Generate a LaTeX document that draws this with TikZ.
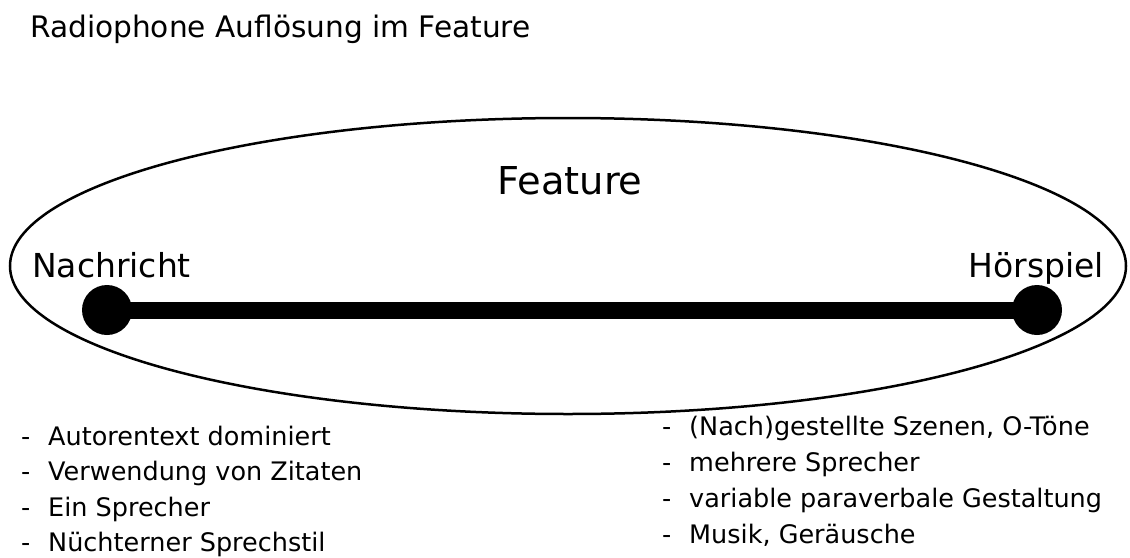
\documentclass[tikz,border=0pt]{standalone}
\usepackage{fontspec}
\setmainfont{DejaVu Sans}
\usetikzlibrary{positioning}
\tikzstyle{dot} = [circle, fill=black, inner sep=0pt, minimum size=50pt]
\tikzstyle{bar} = [draw, line width=17pt]
\tikzstyle{liste} = [anchor=base west, inner sep=0pt, font=\fontsize{25.5}{30}\selectfont]
\tikzstyle{pol} = [inner sep=0pt, font=\fontsize{33}{38}\selectfont]
\newcommand{\strich}{-\hspace{0.7em}}

\begin{document}
\begin{tikzpicture}[x=1pt,y=-1pt]
    \useasboundingbox (0,0) rectangle (1130,557);
    % Titel
    \node [anchor=base west, inner sep=0pt, font=\fontsize{29.6}{34}\selectfont] (titel) at (30,37) {Radiophone Auflösung im Feature};
    % Ellipse und Skala
    \draw [line width=2.5pt] (568,266) ellipse [x radius=558, y radius=148];
    \node [anchor=base, inner sep=0pt, font=\fontsize{38.4}{44}\selectfont] (feature) at (570,194) {Feature};
    \node [pol, anchor=base west] (nachricht) at (32,277) {Nachricht};
    \node [pol, anchor=base east] (hoerspiel) at (1104,277) {Hörspiel};
    \coordinate (links) at (107,310);
    \coordinate (rechts) at (1037,310);
    \draw [bar] (links) -- (rechts);
    \node [dot] (dotl) at (links) {};
    \node [dot] (dotr) at (rechts) {};
    % Merkmale Nachricht
    \node [liste] (l1) at (21,445) {\strich Autorentext dominiert};
    \node [liste] (l2) at (21,480) {\strich Verwendung von Zitaten};
    \node [liste] (l3) at (21,516) {\strich Ein Sprecher};
    \node [liste] (l4) at (21,551) {\strich Nüchterner Sprechstil};
    % Merkmale Hoerspiel
    \node [liste] (r1) at (662,435) {\strich (Nach)gestellte Szenen, O-Töne};
    \node [liste] (r2) at (662,471) {\strich mehrere Sprecher};
    \node [liste] (r3) at (662,507) {\strich variable paraverbale Gestaltung};
    \node [liste] (r4) at (662,543) {\strich Musik, Geräusche};
\end{tikzpicture}
\end{document}
